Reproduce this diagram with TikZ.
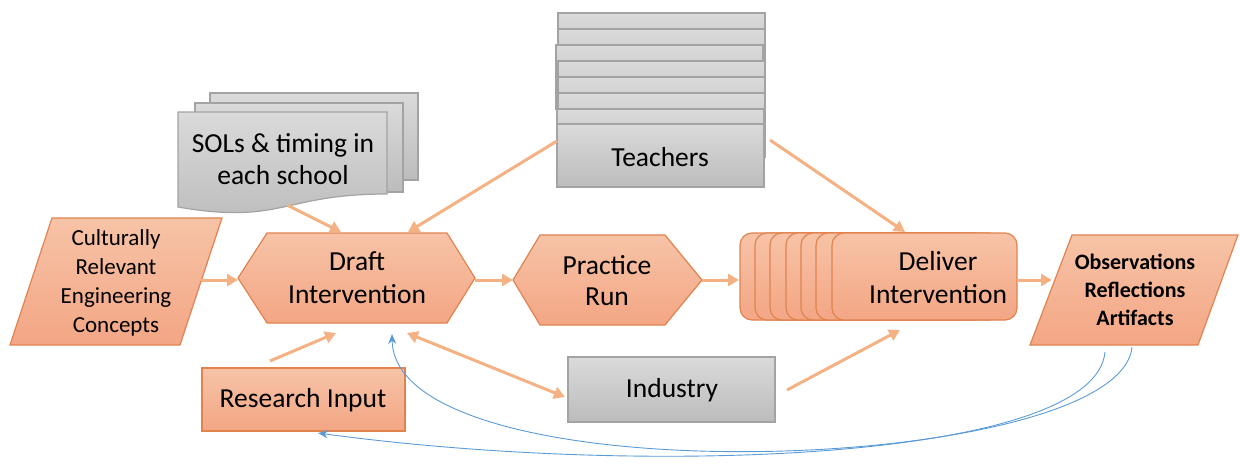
\documentclass[tikz,border=0pt]{standalone}
\usepackage{fontspec}
\setmainfont{Carlito}
\usetikzlibrary{arrows.meta}
\definecolor{orfillA}{HTML}{F7C3A7}
\definecolor{orfillB}{HTML}{F3A684}
\definecolor{ordraw}{HTML}{E0834F}
\definecolor{orarrow}{HTML}{F4B183}
\definecolor{grA}{HTML}{DADADA}
\definecolor{grB}{HTML}{BCBCBC}
\definecolor{grdraw}{HTML}{A3A3A3}
\definecolor{blueln}{HTML}{5B9BD5}
\tikzset{
  orshape/.style={draw=ordraw, line width=1.2pt, top color=orfillA, bottom color=orfillB},
  grshape/.style={draw=grdraw, line width=1.2pt, top color=grA, bottom color=grB},
  lbl/.style={align=center, font=\fontsize{27.5}{33}\selectfont, inner sep=0pt},
  flow/.style={draw=orarrow, line width=3pt, -{Triangle[length=11pt,width=12pt]}},
  flowboth/.style={draw=orarrow, line width=3pt, {Triangle[length=11pt,width=12pt]}-{Triangle[length=11pt,width=12pt]}},
  fb/.style={draw=blueln, line width=0.9pt, -{Stealth[length=10pt,width=8pt]}}
}
\begin{document}
\begin{tikzpicture}[x=1pt,y=-1pt]
\useasboundingbox (0,0) rectangle (1240,464);

% Teachers stack
\foreach \t/\l/\r in {13/558/765, 29/558/765, 45/556/763, 61/558/765, 77/558/765, 93/558/765, 109/557/764}
  \path[grshape] (\l,\t) rectangle (\r,{\t+64});
\path[grshape] (557,124) rectangle (764,187);
\node[lbl] (teachers) at (660,157) {Teachers};

% SOLs document stack
\path[grshape] (210,93) rectangle (418,180);
\path[grshape] (195,103) rectangle (403,192);
\path[grshape] (178,112) -- (387,112) -- (387,194) .. controls (282,194) and (282,225) .. (178,207) -- cycle;
\node[lbl, font=\fontsize{27.5}{32}\selectfont] (sols) at (283,159) {SOLs \& timing in\\each school};

% Culturally relevant
\path[orshape] (52,218) -- (222,218) -- (180,345) -- (10,345) -- cycle;
\node[lbl, font=\fontsize{23}{29}\selectfont] (cult) at (116,283) {Culturally\\Relevant\\Engineering\\Concepts};

% Draft intervention
\path[orshape] (238,278) -- (267,233) -- (447,233) -- (475,278) -- (447,323) -- (267,323) -- cycle;
\node[lbl] (draft) at (357,278) {Draft\\Intervention};

% Practice run
\path[orshape] (513,280) -- (540,235) -- (665,235) -- (702,280) -- (665,325) -- (540,325) -- cycle;
\node[lbl, font=\fontsize{27.5}{31}\selectfont] (practice) at (607,281) {Practice\\Run};

% Deliver stack
\foreach \l in {740,755,770,786,801,816}
  \path[orshape, rounded corners=12pt] (\l,233) rectangle ({\l+185},320);
\path[orshape, rounded corners=12pt] (832,233) rectangle (1017,320);
\node[lbl] (deliver) at (938,278) {Deliver\\Intervention};

% Observations
\path[orshape] (1072,235) -- (1238,235) -- (1198,345) -- (1030,345) -- cycle;
\node[lbl, font=\fontsize{22}{28}\selectfont\bfseries] (obs) at (1135,290) {Observations\\Reflections\\Artifacts};

% Research input
\path[orshape] (202,368) rectangle (405,431);
\node[lbl] (research) at (303,400) {Research Input};

% Industry
\path[grshape] (568,357) rectangle (775,422);
\node[lbl] (industry) at (672,390) {Industry};

% connector end points
\coordinate (cultE) at (201,280);
\coordinate (draftW) at (238,280);
\coordinate (solsB) at (287,205);
\coordinate (draftTL) at (341,232);
\coordinate (teachW) at (557,141);
\coordinate (draftTR) at (408,232);
\coordinate (teachE) at (770,140);
\coordinate (delivT) at (905,232);
\coordinate (draftE) at (475,280);
\coordinate (pracW) at (513,280);
\coordinate (pracE) at (702,280);
\coordinate (delivW) at (739,280);
\coordinate (delivE) at (1017,280);
\coordinate (obsW) at (1052,280);
\coordinate (resT) at (270,361);
\coordinate (draftBL) at (336,333);
\coordinate (draftBR) at (407,333);
\coordinate (indW) at (565,397);
\coordinate (indE) at (787,390);
\coordinate (delivB) at (900,330);
\coordinate (draftB) at (392,334);
\coordinate (resB) at (318,433);
\coordinate (obsB1) at (1132,347);
\coordinate (obsB2) at (1105,352);

% orange connectors
\draw[flow] (cultE) -- (draftW);
\draw[flow] (solsB) -- (draftTL);
\draw[flow] (teachW) -- (draftTR);
\draw[flow] (teachE) -- (delivT);
\draw[flow] (draftE) -- (pracW);
\draw[flow] (pracE) -- (delivW);
\draw[flow] (delivE) -- (obsW);
\draw[flow] (resT) -- (draftBL);
\draw[flowboth] (draftBR) -- (indW);
\draw[flow] (indE) -- (delivB);

% blue feedback curves
\draw[fb] (obsB1) .. controls (1120,475) and (395,500) .. (draftB);
\draw[fb] (obsB2) .. controls (1095,460) and (650,478) .. (resB);
\end{tikzpicture}
\end{document}
